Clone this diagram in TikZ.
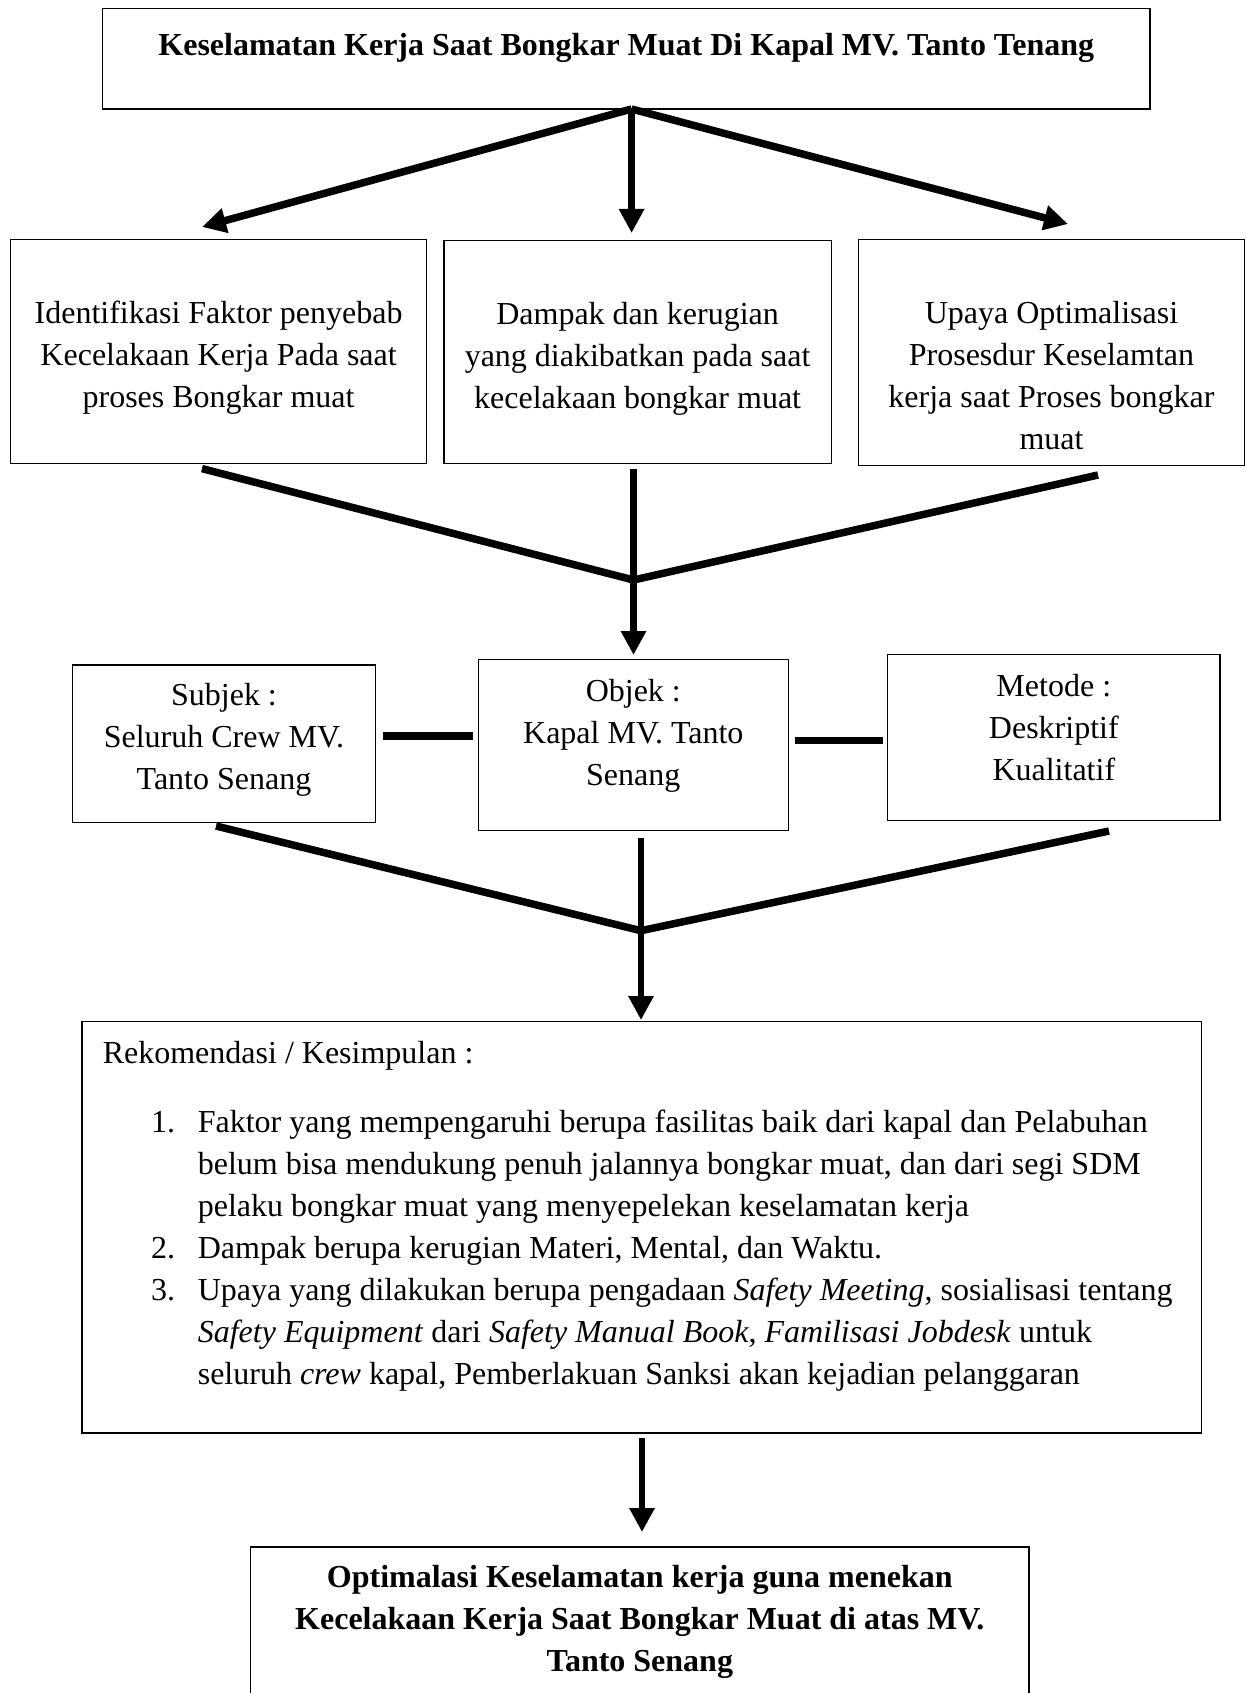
\documentclass[tikz,border=0pt]{standalone}
\usepackage{fontspec}
\setmainfont{Liberation Serif}
\usetikzlibrary{arrows.meta}
\tikzset{
  box/.style={draw, line width=1.4pt, rectangle, inner sep=0pt},
  txt/.style={inner sep=0pt, align=center, anchor=north, font=\fontsize{32}{42}\selectfont},
  ltxt/.style={inner sep=0pt, align=left, anchor=north west, font=\fontsize{32}{42}\selectfont},
  diag/.style={line width=7.5pt},
  vert/.style={line width=6.8pt},
  bar/.style={line width=7.5pt},
  tip/.style={-{Triangle[length=24pt,width=24pt]}}
}
\begin{document}
\begin{tikzpicture}[x=1pt,y=-1pt]
\useasboundingbox (0,0) rectangle (1246,1693);
\fill[white] (0,0) rectangle (1246,1693);
% boxes
\node[box, minimum width=1047.4pt, minimum height=100.4pt] (top) at (626.3,58.8) {};
\node[box, minimum width=415.7pt, minimum height=223.5pt] (A) at (218.6,351.5) {};
\node[box, minimum width=387.6pt, minimum height=222.4pt] (B) at (637.6,352) {};
\node[box, minimum width=386pt, minimum height=225.6pt] (C) at (1051.5,352.5) {};
\node[box, minimum width=303.4pt, minimum height=157.7pt] (S) at (224,743.9) {};
\node[box, minimum width=309.9pt, minimum height=170.6pt] (O) at (633.3,745) {};
\node[box, minimum width=332.5pt, minimum height=166.3pt] (M) at (1053.8,737.5) {};
\node[box, minimum width=1119.7pt, minimum height=411.4pt] (R) at (641.9,1227.1) {};
\node[box, minimum width=778.5pt, minimum height=148pt] (F) at (639.8,1621) {};
% texts
\node[txt, font=\fontsize{32}{42}\selectfont\bfseries] (toptxt) at (626.3,26.3) {\strut Keselamatan Kerja Saat Bongkar Muat Di Kapal MV. Tanto Tenang};
\node[txt] (Atxt) at (218.6,293.5) {\strut Identifikasi Faktor penyebab\\Kecelakaan Kerja Pada saat\\proses Bongkar muat};
\node[txt] (Btxt) at (637.6,294.5) {\strut Dampak dan kerugian\\yang diakibatkan pada saat\\kecelakaan bongkar muat};
\node[txt] (Ctxt) at (1051.5,293.5) {\strut Upaya Optimalisasi\\Prosesdur Keselamtan\\kerja saat Proses bongkar\\muat};
\node[txt] (Stxt) at (224,676) {\strut Subjek :\\Seluruh Crew MV.\\Tanto Senang};
\node[txt] (Otxt) at (633.3,672) {\strut Objek :\\Kapal MV. Tanto\\Senang};
\node[txt] (Mtxt) at (1053.8,666.6) {\strut Metode :\\Deskriptif\\Kualitatif};
\node[ltxt] (Rtxt) at (102.6,1033.7) {\strut Rekomendasi / Kesimpulan :};
\node[ltxt] (n1) at (151,1102.8) {\strut 1.};
\node[ltxt] (n2) at (151,1228.8) {\strut 2.};
\node[ltxt] (n3) at (151,1270.8) {\strut 3.};
\node[ltxt] (list) at (197.6,1102.8) {\strut Faktor yang mempengaruhi berupa fasilitas baik dari kapal dan Pelabuhan\\
belum bisa mendukung penuh jalannya bongkar muat, dan dari segi SDM\\
pelaku bongkar muat yang menyepelekan keselamatan kerja\\
Dampak berupa kerugian Materi, Mental, dan Waktu.\\
Upaya yang dilakukan berupa pengadaan \textit{Safety Meeting}, sosialisasi tentang\\
\textit{Safety Equipment} dari \textit{Safety Manual Book}, \textit{Familisasi Jobdesk} untuk\\
seluruh \textit{crew} kapal, Pemberlakuan Sanksi akan kejadian pelanggaran};
\node[txt, font=\fontsize{32}{42}\selectfont\bfseries] (Ftxt) at (639.8,1557.4) {\strut Optimalasi Keselamatan kerja guna menekan\\Kecelakaan Kerja Saat Bongkar Muat di atas MV.\\Tanto Senang};
% coordinates
\coordinate (o1) at (631.6,109);
\coordinate (tA) at (202,227);
\coordinate (tB) at (631.6,233);
\coordinate (tC) at (1068,224);
\coordinate (sA) at (202,468.6);
\coordinate (sB) at (633.5,468.6);
\coordinate (sC) at (1098,475);
\coordinate (m1) at (633.5,580);
\coordinate (t2) at (633.5,655);
\coordinate (sS) at (216,826);
\coordinate (sO) at (641,838);
\coordinate (sM) at (1109,831);
\coordinate (m2) at (641,930.7);
\coordinate (t3) at (641,1020);
\coordinate (sR) at (642,1438);
\coordinate (t4) at (642,1532);
\coordinate (b1a) at (383,736);
\coordinate (b1b) at (473,736);
\coordinate (b2a) at (794.7,740.7);
\coordinate (b2b) at (883,740.7);
% connectors
\draw[diag, tip] (o1) -- (tA);
\draw[vert, tip] (o1) -- (tB);
\draw[diag, tip] (o1) -- (tC);
\draw[diag] (sA) -- (m1) -- (sC);
\draw[vert, tip] (sB) -- (t2);
\draw[bar] (b1a) -- (b1b);
\draw[bar] (b2a) -- (b2b);
\draw[diag] (sS) -- (m2) -- (sM);
\draw[vert, tip] (sO) -- (t3);
\draw[vert, tip] (sR) -- (t4);
\end{tikzpicture}
\end{document}
